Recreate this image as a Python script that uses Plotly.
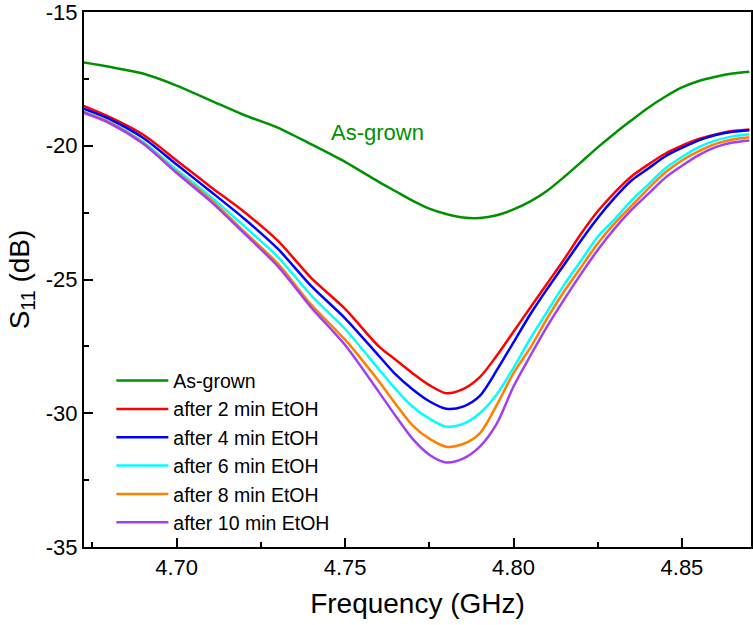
import plotly.graph_objects as go

freq = [4.672, 4.680, 4.690, 4.700, 4.710, 4.720, 4.730, 4.740, 4.750, 4.760,
        4.765, 4.770, 4.775, 4.780, 4.785, 4.790, 4.795, 4.800, 4.805, 4.810,
        4.815, 4.820, 4.825, 4.830, 4.835, 4.840, 4.845, 4.850, 4.855, 4.860,
        4.865, 4.870]

as_grown = [-16.88, -17.05, -17.3, -17.75, -18.3, -18.85, -19.32, -19.95, -20.6, -21.35,
            -21.7, -22.05, -22.35, -22.55, -22.68, -22.7, -22.6, -22.38, -22.08, -21.68,
            -21.17, -20.62, -20.06, -19.54, -19.05, -18.58, -18.17, -17.82, -17.58, -17.42,
            -17.3, -17.23]
etoh_2 = [-18.49, -18.92, -19.58, -20.55, -21.53, -22.47, -23.55, -24.95, -26.10, -27.50,
          -28.0, -28.5, -28.95, -29.25, -29.1, -28.65, -27.85, -26.95, -26.05, -25.15,
          -24.25, -23.3, -22.45, -21.75, -21.15, -20.7, -20.3, -20.0, -19.75, -19.58,
          -19.45, -19.39]
etoh_4 = [-18.6, -19.0, -19.7, -20.7, -21.7, -22.72, -23.85, -25.25, -26.45, -27.85,
          -28.55, -29.1, -29.55, -29.83, -29.75, -29.35, -28.4, -27.35, -26.3, -25.35,
          -24.45, -23.55, -22.7, -21.95, -21.3, -20.85, -20.4, -20.08, -19.8, -19.6,
          -19.48, -19.42]
etoh_6 = [-18.7, -19.1, -19.85, -20.9, -21.9, -23.0, -24.15, -25.6, -26.85, -28.35,
          -29.1, -29.75, -30.2, -30.5, -30.4, -30.0, -29.3, -28.3, -27.2, -26.2,
          -25.2, -24.3, -23.4, -22.75, -22.05, -21.45, -20.85, -20.42, -20.05, -19.8,
          -19.65, -19.57]
etoh_8 = [-18.72, -19.12, -19.9, -20.98, -22.0, -23.2, -24.4, -25.95, -27.25, -28.8,
          -29.65, -30.45, -30.95, -31.25, -31.15, -30.75, -29.7, -28.5, -27.55, -26.45,
          -25.45, -24.55, -23.65, -22.9, -22.25, -21.6, -21.0, -20.55, -20.2, -19.93,
          -19.77, -19.68]
etoh_10 = [-18.75, -19.15, -19.92, -21.02, -22.07, -23.27, -24.5, -26.05, -27.45, -29.2,
           -30.1, -30.95, -31.55, -31.84, -31.7, -31.25, -30.4, -29.0, -27.85, -26.75,
           -25.75, -24.8, -23.9, -23.1, -22.4, -21.8, -21.2, -20.75, -20.35, -20.05,
           -19.88, -19.8]

names = ["As-grown", "after 2 min EtOH", "after 4 min EtOH", "after 6 min EtOH",
         "after 8 min EtOH", "after 10 min EtOH"]
series = [as_grown, etoh_2, etoh_4, etoh_6, etoh_8, etoh_10]
colors = ["#009100", "#FF0000", "#0000FF", "#00FFFF", "#FF8000", "#A040F5"]

x_ticks = [4.70, 4.75, 4.80, 4.85]
x_labels = ["4.70", "4.75", "4.80", "4.85"]
y_ticks = [-35, -30, -25, -20, -15]
y_labels = ["-35", "-30", "-25", "-20", "-15"]

FONT = "Liberation Sans, Arial, sans-serif"

fig = go.Figure()
for name, vals, col in zip(names, series, colors):
    fig.add_trace(go.Scatter(x=freq, y=vals, mode="lines", name=name,
                             line=dict(color=col, width=2.5, shape="spline", smoothing=0.8)))

fig.add_annotation(x=4.7595, y=-19.5, text="As-grown", showarrow=False,
                   font=dict(family=FONT, size=22, color="#009100"),
                   xanchor="center", yanchor="middle")

axis_common = dict(showline=True, linecolor="black", linewidth=2, mirror=True,
                   ticks="inside", ticklen=9, tickwidth=1.5, tickcolor="black",
                   showgrid=False, zeroline=False, ticklabeloverflow="allow",
                   automargin=False,
                   tickfont=dict(family=FONT, size=22, color="black"))

fig.update_xaxes(range=[4.6725, 4.8705], tickvals=x_ticks, ticktext=x_labels,
                 minor=dict(ticks="inside", ticklen=5, tickwidth=1.5, tickcolor="black",
                            tick0=4.675, dtick=0.05),
                 title=dict(text="Frequency (GHz)", font=dict(family=FONT, size=28, color="black"),
                            standoff=14),
                 **axis_common)
fig.update_yaxes(range=[-35, -15], tickvals=y_ticks, ticktext=y_labels,
                 minor=dict(ticks="inside", ticklen=5, tickwidth=1.5, tickcolor="black",
                            tick0=-32.5, dtick=5),
                 title=dict(text="S<sub>11</sub> (dB)", font=dict(family=FONT, size=28, color="black"),
                            standoff=8),
                 **axis_common)

fig.update_layout(
    width=753, height=625,
    margin=dict(l=84, r=2, t=12, b=78),
    paper_bgcolor="white", plot_bgcolor="white",
    showlegend=True,
    legend=dict(x=0.041, y=0.347, xanchor="left", yanchor="top",
                bgcolor="rgba(0,0,0,0)", borderwidth=0,
                font=dict(family=FONT, size=19.5, color="black"),
                itemwidth=52, tracegroupgap=0),
)

fig.write_html("out.html")
